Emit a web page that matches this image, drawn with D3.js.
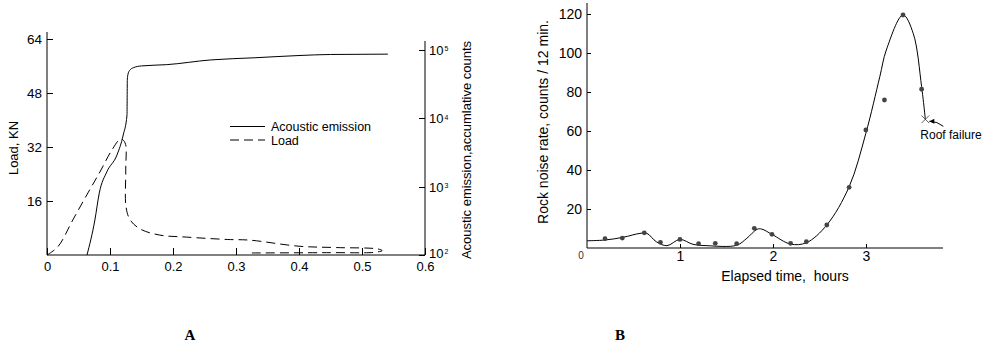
<!DOCTYPE html>
<html>
<head>
<meta charset="utf-8">
<script src="https://cdn.jsdelivr.net/npm/d3@7"></script>
<style>
  body { margin: 0; background: #fff; }
  svg { display: block; font-family: "Liberation Sans", Arial, sans-serif; }
  .axis path, .axis line { stroke: #000; shape-rendering: crispEdges; }
  .axis text { fill: #000; }
</style>
</head>
<body>
<div id="chart"></div>
<script>
// ---- panel A: load & acoustic emission vs strain ----
const aeX = [0.0635, 0.076, 0.083, 0.095, 0.111, 0.121, 0.127, 0.1275, 0.1285, 0.131, 0.137, 0.15, 0.19, 0.26, 0.33, 0.4, 0.45, 0.541];
const aeCounts = [100, 325, 810, 1650, 2900, 5700, 11200, 36500, 44000, 50000, 55000, 58500, 61000, 71600, 77000, 83000, 86000, 87000];

const loadX = [0, 0.0175, 0.041, 0.065, 0.084, 0.103, 0.117, 0.124, 0.125, 0.1254, 0.132, 0.148, 0.179, 0.222, 0.286, 0.322, 0.4, 0.46, 0.525, 0.532, 0.52, 0.45, 0.32];
const loadKN = [0, 2.5, 10.4, 18.4, 24.6, 31.1, 34.4, 33.2, 25.2, 14.3, 10.4, 7.7, 5.9, 5.3, 4.6, 4.4, 2.6, 2.2, 1.8, 1.3, 0.8, 0.7, 0.6];

const aXTicks = [0, 0.1, 0.2, 0.3, 0.4, 0.5, 0.6];
const aLoadTicks = [16, 32, 48, 64];
const aLogTicks = [100, 1000, 10000, 100000];

// ---- panel B: rock noise rate vs elapsed time ----
const noiseHours = [0.194, 0.38, 0.616, 0.79, 1.0, 1.2, 1.38, 1.61, 1.80, 1.99, 2.19, 2.36, 2.58, 2.82, 3.0, 3.20, 3.40, 3.60];
const noiseRate = [4.8, 5.1, 7.8, 2.9, 4.4, 2.2, 2.4, 2.2, 10.1, 7.0, 2.4, 3.2, 11.8, 31.1, 60.5, 75.9, 119.5, 81.4];

const fitHours = [0, 0.194, 0.39, 0.57, 0.645, 0.746, 0.86, 1.0, 1.14, 1.29, 1.61, 1.72, 1.83, 1.88, 1.99, 2.19, 2.36, 2.58, 2.82, 3.0, 3.15, 3.22, 3.40, 3.51, 3.60, 3.64];
const fitRate = [3.7, 4.1, 5.5, 7.5, 7.5, 3.2, 1.2, 4.4, 1.9, 1.2, 1.4, 5.0, 9.6, 9.7, 7.0, 2.0, 2.7, 11.8, 31.4, 58.8, 87.8, 101.5, 119.5, 110, 82.7, 66];

const failure = { hours: 3.64, rate: 66, label: "Roof failure" };
const bXTicks = [1, 2, 3];
const bYTicks = [20, 40, 60, 80, 100, 120];

const width = 987, height = 348;
const svg = d3.select('#chart').append('svg')
  .attr('width', width)
  .attr('height', height);

// ================= panel A =================
const ax = d3.scaleLinear().domain([0, 0.6]).range([47, 425]);
const ayLoad = d3.scaleLinear().domain([0, 64]).range([255, 39]);
const ayAE = d3.scaleLog().domain([100, 100000]).range([255, 50]);

const gA = svg.append('g');

gA.append('g')
  .attr('class', 'axis')
  .attr('transform', 'translate(0,255)')
  .call(d3.axisBottom(ax).tickValues(aXTicks).tickFormat(d3.format('')).tickSize(-7).tickSizeOuter(0).tickPadding(7))
  .call(g => g.select('.domain').remove())
  .call(g => g.selectAll('text').style('font-size', '13px'));

gA.append('line')
  .attr('x1', ax(0)).attr('x2', ax(0.6))
  .attr('y1', 255).attr('y2', 255)
  .attr('stroke', '#000');

gA.append('g')
  .attr('class', 'axis')
  .attr('transform', 'translate(47,0)')
  .call(d3.axisLeft(ayLoad).tickValues(aLoadTicks).tickSize(-6).tickSizeOuter(0).tickPadding(5))
  .call(g => g.select('.domain').remove())
  .call(g => g.selectAll('text').style('font-size', '13.5px'));

gA.append('line')
  .attr('x1', 47).attr('x2', 47)
  .attr('y1', 255).attr('y2', 32)
  .attr('stroke', '#000');

const rightAxis = gA.append('g')
  .attr('class', 'axis')
  .attr('transform', 'translate(425,0)')
  .call(d3.axisRight(ayAE).tickValues(aLogTicks).tickFormat(() => '').tickSize(-6).tickSizeOuter(0))
  .call(g => g.select('.domain').remove());

rightAxis.selectAll('.tick').append('text')
  .attr('x', 4)
  .attr('y', d => d === 100 ? -2 : 0)
  .attr('dy', '0.35em')
  .attr('fill', '#000')
  .style('font-size', '13px')
  .attr('text-anchor', 'start')
  .each(function(d) {
    const t = d3.select(this);
    t.append('tspan').text('10');
    t.append('tspan')
      .attr('dx', 1)
      .attr('dy', '-0.55em')
      .style('font-size', '7px')
      .text(Math.round(Math.log10(d)));
  });

gA.append('line')
  .attr('x1', 425).attr('x2', 425)
  .attr('y1', 255).attr('y2', 41)
  .attr('stroke', '#000');

gA.append('text')
  .attr('transform', 'translate(18,148) rotate(-90)')
  .attr('text-anchor', 'middle')
  .style('font-size', '13px')
  .text('Load, KN');

gA.append('text')
  .attr('transform', 'translate(471,150) rotate(-90)')
  .attr('text-anchor', 'middle')
  .style('font-size', '13px')
  .text('Acoustic emission,accumlative counts');

const aeLine = d3.line()
  .x(i => ax(aeX[i]))
  .y(i => ayAE(aeCounts[i]))
  .curve(d3.curveMonotoneX);

gA.append('path')
  .attr('d', aeLine(d3.range(aeX.length)))
  .attr('fill', 'none')
  .attr('stroke', '#000')
  .attr('stroke-width', 1);

const loadLine = d3.line()
  .x(i => ax(loadX[i]))
  .y(i => ayLoad(loadKN[i]))
  .curve(d3.curveCatmullRom.alpha(0.5));

gA.append('path')
  .attr('d', loadLine(d3.range(loadX.length)))
  .attr('fill', 'none')
  .attr('stroke', '#000')
  .attr('stroke-width', 1)
  .attr('stroke-dasharray', '9,5');

// legend
const legend = gA.append('g').attr('transform', 'translate(230,126.5)');
legend.append('line').attr('x1', 0).attr('x2', 35).attr('y1', 0).attr('y2', 0).attr('stroke', '#000');
legend.append('line').attr('x1', 0).attr('x2', 35).attr('y1', 13.5).attr('y2', 13.5)
  .attr('stroke', '#000').attr('stroke-dasharray', '9,5');
legend.append('text').attr('x', 41).attr('y', 0).attr('dy', '0.33em').style('font-size', '12.5px').text('Acoustic emission');
legend.append('text').attr('x', 41).attr('y', 13.5).attr('dy', '0.4em').style('font-size', '12.5px').text('Load');

// ================= panel B =================
const bx = d3.scaleLinear().domain([0, 3.83]).range([587, 943]);
const by = d3.scaleLinear().domain([0, 120]).range([248, 14]);

const gB = svg.append('g');

gB.append('g')
  .attr('class', 'axis')
  .attr('transform', 'translate(0,248)')
  .call(d3.axisBottom(bx).tickValues(bXTicks).tickFormat(d3.format('d')).tickSize(-4).tickSizeOuter(0).tickPadding(3))
  .call(g => g.select('.domain').remove())
  .call(g => g.selectAll('text').style('font-size', '14px'));

gB.append('line')
  .attr('x1', bx(0)).attr('x2', 943)
  .attr('y1', 248).attr('y2', 248)
  .attr('stroke', '#000');

gB.append('g')
  .attr('class', 'axis')
  .attr('transform', 'translate(587,0)')
  .call(d3.axisLeft(by).tickValues(bYTicks).tickSize(-4).tickSizeOuter(0).tickPadding(5))
  .call(g => g.select('.domain').remove())
  .call(g => g.selectAll('text').style('font-size', '14px'));

gB.append('line')
  .attr('x1', 587).attr('x2', 587)
  .attr('y1', 248).attr('y2', 3)
  .attr('stroke', '#000');

gB.append('text')
  .attr('x', 581).attr('y', 259)
  .attr('text-anchor', 'middle')
  .style('font-size', '10px')
  .attr('fill', '#333')
  .text('0');

gB.append('text')
  .attr('transform', 'translate(548,122) rotate(-90)')
  .attr('text-anchor', 'middle')
  .style('font-size', '14px')
  .text('Rock noise rate, counts / 12 min.');

gB.append('text')
  .attr('x', 785).attr('y', 281)
  .attr('text-anchor', 'middle')
  .style('font-size', '14px')
  .text('Elapsed time,\u00a0 hours');

const fitLine = d3.line()
  .x(i => bx(fitHours[i]))
  .y(i => by(fitRate[i]))
  .curve(d3.curveCatmullRom.alpha(0.5));

gB.append('path')
  .attr('d', fitLine(d3.range(fitHours.length)))
  .attr('fill', 'none')
  .attr('stroke', '#000')
  .attr('stroke-width', 1);

gB.selectAll('circle.pt')
  .data(d3.range(noiseHours.length))
  .join('circle')
  .attr('class', 'pt')
  .attr('cx', i => bx(noiseHours[i]))
  .attr('cy', i => by(noiseRate[i]))
  .attr('r', 2.4)
  .attr('fill', '#444');

// failure marker
const fx = bx(failure.hours), fy = by(failure.rate);
gB.append('path')
  .attr('d', d3.symbol(d3.symbolX, 40)())
  .attr('transform', `translate(${fx},${fy})`)
  .attr('fill', 'none')
  .attr('stroke', '#333')
  .attr('stroke-width', 0.8);

svg.append('defs').append('marker')
  .attr('id', 'arrowhead')
  .attr('viewBox', '0 -5 10 10')
  .attr('refX', 10)
  .attr('refY', 0)
  .attr('orient', 'auto')
  .attr('markerWidth', 7)
  .attr('markerHeight', 5)
  .append('path')
  .attr('d', 'M0,-5L10,0L0,5Z')
  .attr('fill', '#000');

gB.append('path')
  .attr('d', `M${fx + 18},${fy + 7} Q${fx + 12},${fy + 2} ${fx + 4},${fy + 2}`)
  .attr('fill', 'none')
  .attr('stroke', '#000')
  .attr('stroke-width', 1)
  .attr('marker-end', 'url(#arrowhead)');

gB.append('text')
  .attr('x', fx - 5).attr('y', fy + 20)
  .style('font-size', '12px')
  .text(failure.label);

// panel letters
svg.append('text')
  .attr('x', 190).attr('y', 340)
  .attr('text-anchor', 'middle')
  .style('font-family', '"Liberation Serif", "Times New Roman", serif')
  .style('font-weight', 'bold')
  .style('font-size', '15px')
  .text('A');

svg.append('text')
  .attr('x', 620).attr('y', 340)
  .attr('text-anchor', 'middle')
  .style('font-family', '"Liberation Serif", "Times New Roman", serif')
  .style('font-weight', 'bold')
  .style('font-size', '15px')
  .text('B');
</script>
</body>
</html>
